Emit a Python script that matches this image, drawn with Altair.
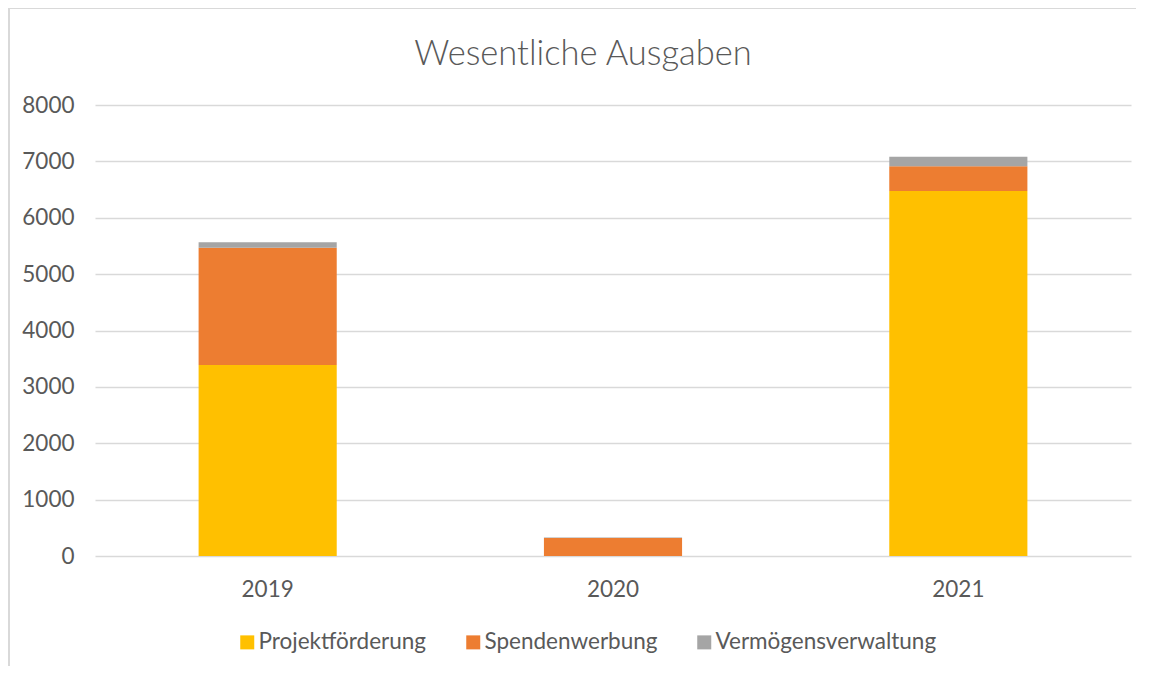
import altair as alt
import pandas as pd

years = ["2019", "2020", "2021"]
categories = ["Projektförderung", "Spendenwerbung", "Vermögensverwaltung"]
projekt = [3390, 0, 6475]
spenden = [2080, 320, 440]
vermoegen = [95, 8, 165]
colors = ["#FFC000", "#ED7D31", "#A5A5A5"]
y_ticks = [0, 1000, 2000, 3000, 4000, 5000, 6000, 7000, 8000]

rows = []
for series_i, (cat, vals) in enumerate(zip(categories, [projekt, spenden, vermoegen])):
    for yr, v in zip(years, vals):
        rows.append({"Jahr": yr, "Kategorie": cat, "Wert": v, "ord": series_i})
df = pd.DataFrame(rows)

FONT = "Lato"
TXT = "#595959"
GRID = "#D9D9D9"

bars = alt.Chart(df).mark_bar().encode(
    x=alt.X("Jahr:N", sort=years,
            scale=alt.Scale(paddingInner=0.6, paddingOuter=0.3),
            axis=alt.Axis(title=None, labelAngle=0, ticks=False, domain=False,
                          labelPadding=22, labelFontSize=22.5, labelColor=TXT, labelFont=FONT)),
    y=alt.Y("Wert:Q", stack="zero",
            scale=alt.Scale(domain=[0, 8000], nice=False),
            axis=alt.Axis(title=None, values=y_ticks, ticks=False, domain=False,
                          labelPadding=21, labelFontSize=22.5, labelColor=TXT, labelFont=FONT,
                          gridColor=GRID, gridWidth=1.5, format="d")),
    color=alt.Color("Kategorie:N", sort=categories,
                    scale=alt.Scale(domain=categories, range=colors),
                    legend=alt.Legend(title=None, orient="none", direction="horizontal",
                                      legendX=141, legendY=526, padding=0,
                                      symbolType="square", symbolSize=196, symbolStrokeWidth=0,
                                      labelFontSize=22.5, labelColor=TXT, labelFont=FONT,
                                      labelLimit=400, labelOffset=0, columnPadding=35)),
    order=alt.Order("ord:Q", sort="ascending"),
)

border = alt.Chart(df).mark_rule(color=GRID, strokeWidth=1.5).encode(
    x=alt.value(-86), y=alt.value(-97), y2=alt.value(570)
)
border_top = alt.Chart(df).mark_rule(color=GRID, strokeWidth=1.5).encode(
    x=alt.value(-86), x2=alt.value(1060), y=alt.value(-97)
)

chart = alt.layer(bars, border, border_top).properties(
    width=1036, height=451,
    autosize=alt.AutoSizeParams(type="none"),
    padding={"left": 87, "top": 97, "right": 5, "bottom": 110},
    title=alt.Title("Wesentliche Ausgaben", fontSize=34.5, font=FONT, fontWeight=300,
                    color=TXT, anchor="middle", dx=-30, offset=0, dy=65),
).configure_view(stroke=None)

chart.save("out.html", embed_options={"renderer": "svg", "actions": False})
